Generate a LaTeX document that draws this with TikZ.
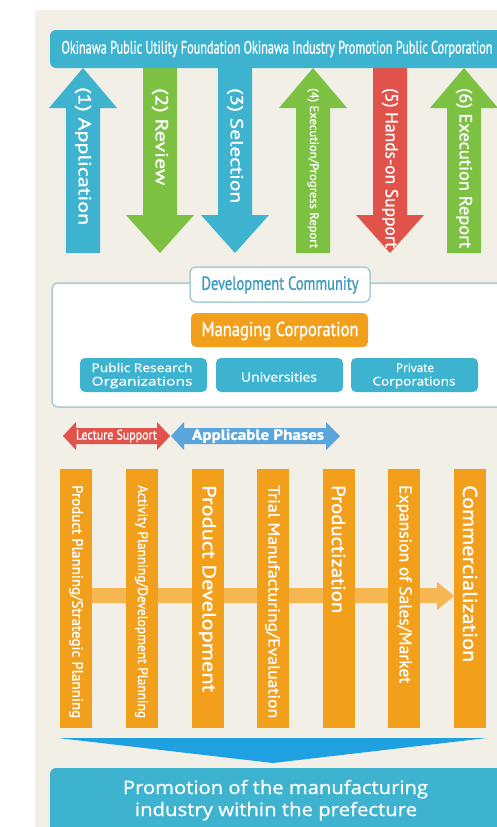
\documentclass[tikz,border=0pt]{standalone}
\usepackage{fontspec}
\usepackage{graphicx}
\setmainfont[FakeBold=1.1]{PT Sans}
\newfontfamily\opensf[FakeBold=0.8]{Open Sans}
\newcommand\fitw[2]{\resizebox{#1}{\height}{#2}}
\newcommand\fs[1]{\fontsize{#1}{#1}\selectfont}
\definecolor{bgbeige}{RGB}{242,239,230}
\definecolor{cblue}{RGB}{62,179,207}
\definecolor{cgreen}{RGB}{125,193,66}
\definecolor{cred}{RGB}{225,82,74}
\definecolor{corange}{RGB}{242,160,28}
\definecolor{clorange}{RGB}{246,182,82}
\definecolor{cablue}{RGB}{88,165,222}
\definecolor{cchev}{RGB}{30,160,225}
\definecolor{cdevtxt}{RGB}{60,155,190}
\definecolor{cframe}{RGB}{168,205,214}
\newcommand\UpArr[2]{\fill[#2] (#1-17,253) -- (#1-17,108) -- (#1-34,108) -- (#1,68) -- (#1+34,108) -- (#1+17,108) -- (#1+17,253) -- cycle;}
\newcommand\DnArr[2]{\fill[#2] (#1-17,60) -- (#1-17,215) -- (#1-34,215) -- (#1,253) -- (#1+34,215) -- (#1+17,215) -- (#1+17,60) -- cycle;}
\newcommand\PhaseBar[1]{\fill[corange] (#1-16,469) rectangle (#1+16,728);}
\begin{document}
\begin{tikzpicture}[x=1pt,y=-1pt,
  txt/.style={text=white, inner sep=0pt},
  vtxt/.style={txt, rotate=-90, anchor=west},
  frame/.style={draw=cframe, line width=1.5pt, fill=white, rounded corners=6pt},
  bluebox/.style={fill=cblue, rounded corners=5pt}]
\useasboundingbox (0,0) rectangle (497,827);
\clip (0,0) rectangle (497,827);
\fill[bgbeige] (35,10) rectangle (497,827);
% top arrows
\UpArr{83}{cblue}
\DnArr{160}{cgreen}
\DnArr{235}{cblue}
\UpArr{313}{cgreen}
\DnArr{390}{cred}
\UpArr{464}{cgreen}
% top bar
\fill[cblue, rounded corners=6pt] (50,30) rectangle (520,68);
\node[txt] (top) at (277,49) {\fitw{431pt}{\fs{18}Okinawa Public Utility Foundation Okinawa Industry Promotion Public Corporation}};
\node[vtxt] (a1) at (83,87) {\fitw{138pt}{\fs{17.5}(1) Application}};
\node[vtxt] (a2) at (160,88) {\fitw{97pt}{\fs{17.5}(2) Review}};
\node[vtxt] (a3) at (235,88) {\fitw{115pt}{\fs{17.5}(3) Selection}};
\node[vtxt] (a4) at (313,88) {\fitw{160pt}{\fs{12}(4) Execution/Progress Report}};
\node[vtxt] (a5) at (390,88) {\fitw{160pt}{\fs{17.5}(5) Hands-on Support}};
\node[vtxt] (a6) at (464,88) {\fitw{160pt}{\fs{17.5}(6) Execution Report}};
% development community
\path[frame] (52,283) rectangle (520,407);
\path[frame] (190,267) rectangle (370,302);
\node[inner sep=0pt, text=cdevtxt] (dev) at (280,285) {\fitw{157pt}{\fs{19}Development Community}};
\fill[corange, rounded corners=5pt] (191,313) rectangle (368,347);
\node[txt] (mgr) at (280,331) {\fitw{157pt}{\fs{20}Managing Corporation}};
\fill[bluebox] (80,358) rectangle (207,392);
\fill[bluebox] (216,358) rectangle (343,392);
\fill[bluebox] (351,358) rectangle (478,392);
\node[txt, anchor=base] (pro1) at (142,372) {\fitw{101pt}{\opensf\fs{12}Public Research}};
\node[txt, anchor=base] (pro2) at (142,385.5) {\fitw{101pt}{\opensf\fs{12}Organizations}};
\node[txt] (uni) at (279,377) {\fitw{76pt}{\opensf\fs{13}Universities}};
\node[txt, anchor=base] (pri1) at (415,372) {\fitw{38pt}{\opensf\fs{12}Private}};
\node[txt, anchor=base] (pri2) at (414,385.5) {\fitw{83pt}{\opensf\fs{12}Corporations}};
% lecture / applicable arrows
\fill[cred] (63,436) -- (76,422) -- (76,428) -- (157,428) -- (157,422) -- (170,436) -- (157,450) -- (157,444) -- (76,444) -- (76,450) -- cycle;
\fill[cablue] (171,436) -- (184,422) -- (184,428) -- (326,428) -- (326,422) -- (340,436) -- (326,450) -- (326,444) -- (184,444) -- (184,450) -- cycle;
\node[txt] (lec) at (116.5,436) {\fitw{81pt}{\fs{14}Lecture Support}};
\node[txt] (app) at (258,436) {\fitw{132pt}{\bfseries\fs{15}Applicable Phases}};
% flow arrow behind bars
\fill[clorange] (76,588) -- (437,588) -- (437,582) -- (454,596) -- (437,610) -- (437,603) -- (76,603) -- cycle;
\PhaseBar{76}
\PhaseBar{141.5}
\PhaseBar{207.5}
\PhaseBar{272.5}
\PhaseBar{338.5}
\PhaseBar{404}
\PhaseBar{470}
\node[vtxt] (p1) at (76,485) {\fitw{233pt}{\fs{15}Product Planning/Strategic Planning}};
\node[vtxt] (p2) at (141.5,485) {\fitw{233pt}{\fs{14}Activity Planning/Development Planning}};
\node[vtxt] (p3) at (207.5,485) {\fitw{207pt}{\fs{19}Product Development}};
\node[vtxt] (p4) at (272.5,485) {\fitw{233pt}{\fs{16}Trial Manufacturing/Evaluation}};
\node[vtxt] (p5) at (338.5,485) {\fitw{128pt}{\fs{19}Productization}};
\node[vtxt] (p6) at (404,485) {\fitw{198pt}{\fs{17}Expansion of Sales/Market}};
\node[vtxt] (p7) at (470,485) {\fitw{177pt}{\fs{20}Commercialization}};
% chevron and result
\fill[cchev] (58,738) -- (487,738) -- (273,763) -- cycle;
\fill[cblue, rounded corners=6pt] (50,768) rectangle (520,850);
\node[txt, anchor=base] (r1) at (275.5,794) {\fitw{305pt}{\opensf\fs{18.5}Promotion of the manufacturing}};
\node[txt, anchor=base] (r2) at (276,816) {\fitw{282pt}{\opensf\fs{18.5}industry within the prefecture}};
\end{tikzpicture}
\end{document}
